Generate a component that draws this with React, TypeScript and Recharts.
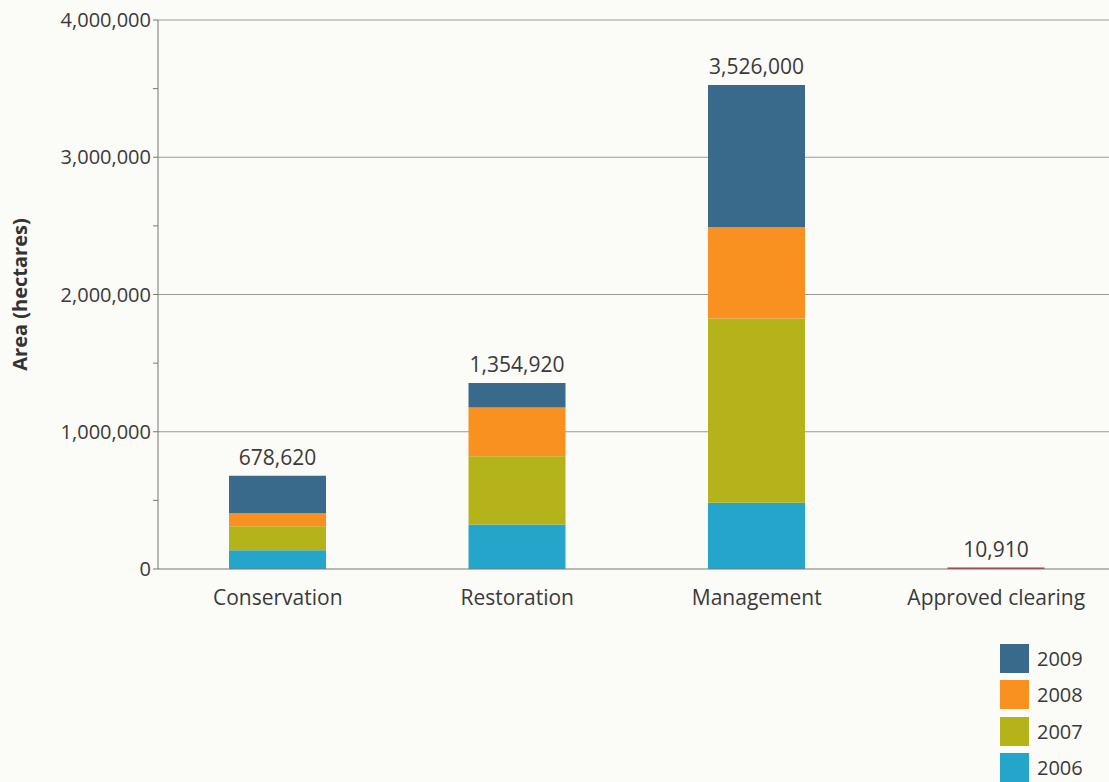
import React from 'react';
import { BarChart, Bar, XAxis, YAxis, CartesianGrid, LabelList } from 'recharts';

const categories = ['Conservation', 'Restoration', 'Management', 'Approved clearing'];
const v2006 = [137000, 324000, 483000, 0];
const v2007 = [174000, 497000, 1342000, 0];
const v2008 = [96000, 356000, 665000, 0];
const v2009 = [271620, 177920, 1036000, 0];
const vClearing = [0, 0, 0, 10910];
const totals = [678620, 1354920, 3526000, 10910];
const yTicks = [0, 500000, 1000000, 1500000, 2000000, 2500000, 3000000, 3500000, 4000000];
const gridValues = [1000000, 2000000, 3000000, 4000000];

const seriesKeys = ['y2006', 'y2007', 'y2008', 'y2009'];
const seriesNames = ['2006', '2007', '2008', '2009'];
const seriesColors = ['#24a6cb', '#b5b31a', '#f8911f', '#3a6a8b'];
const clearingColor = '#c4262c';

const data = categories.map((c, i) => ({
  name: c,
  y2006: v2006[i],
  y2007: v2007[i],
  y2008: v2008[i],
  y2009: v2009[i],
  clearing: vClearing[i],
  total: totals[i],
}));

const FONT = '"Open Sans", "Noto Sans", sans-serif';
const fmt = (v: number) => Number(v).toLocaleString('en-US');

const YTick = (props: any) => {
  const { x, y, payload } = props;
  if (payload.value % 1000000 !== 0) return null;
  return (
    <text x={x} y={y} dy={7} textAnchor="end" fill="#3a3a3a" fontSize={20} fontFamily={FONT}>
      {fmt(payload.value)}
    </text>
  );
};

const TotalLabel = (props: any) => {
  const { x, y, width, value } = props;
  if (value === undefined || value === null) return null;
  return (
    <text x={Number(x) + Number(width) / 2} y={Number(y) - 11} textAnchor="middle" fill="#3a3a3a" fontSize={21} fontFamily={FONT}>
      {fmt(value)}
    </text>
  );
};

export default function App() {
  const legendOrder = [3, 2, 1, 0];
  return (
    <div style={{ position: 'absolute', left: 0, top: 0, width: 1109, height: 782, overflow: 'hidden', background: '#fbfbf7' }}>
      <BarChart
        width={1116}
        height={782}
        data={data}
        margin={{ top: 20, right: 0, bottom: 173, left: 0 }}
      >
        <CartesianGrid
          vertical={false}
          horizontal={true}
          stroke="#9a9a9a"
          strokeWidth={1}
          horizontalValues={gridValues}
        />
        <XAxis
          dataKey="name"
          tickLine={false}
          tickSize={0}
          tickMargin={21}
          axisLine={{ stroke: '#777', strokeWidth: 1 }}
          tick={{ fill: '#3a3a3a', fontSize: 21, fontFamily: FONT }}
          interval={0}
          height={40}
        />
        <YAxis
          width={158}
          domain={[0, 4000000]}
          ticks={yTicks}
          interval={0}
          tickSize={5}
          tickLine={{ stroke: '#777' }}
          axisLine={{ stroke: '#777', strokeWidth: 1 }}
          tick={<YTick />}
          label={{
            value: 'Area (hectares)',
            angle: -90,
            position: 'insideLeft',
            offset: 20,
            style: { textAnchor: 'middle', fontWeight: 700, fontSize: 20, fill: '#333', fontFamily: FONT },
          }}
        />
        {seriesKeys.map((k, i) => (
          <Bar key={k} dataKey={k} name={seriesNames[i]} stackId="a" fill={seriesColors[i]} barSize={97} isAnimationActive={false}>
            {k === 'y2009' ? <LabelList dataKey="total" content={<TotalLabel />} /> : null}
          </Bar>
        ))}
        <Bar dataKey="clearing" stackId="a" fill={clearingColor} barSize={97} isAnimationActive={false}>
          <LabelList dataKey="total" content={<TotalLabel />} />
        </Bar>
      </BarChart>
      <div style={{ position: 'absolute', left: 1000, top: 640, fontFamily: FONT }}>
        {legendOrder.map((i) => (
          <div key={i} style={{ display: 'flex', alignItems: 'center', height: 36.5 }}>
            <div style={{ width: 29, height: 29, background: seriesColors[i] }} />
            <span style={{ marginLeft: 8, fontSize: 20, color: '#3a3a3a' }}>{seriesNames[i]}</span>
          </div>
        ))}
      </div>
    </div>
  );
}
